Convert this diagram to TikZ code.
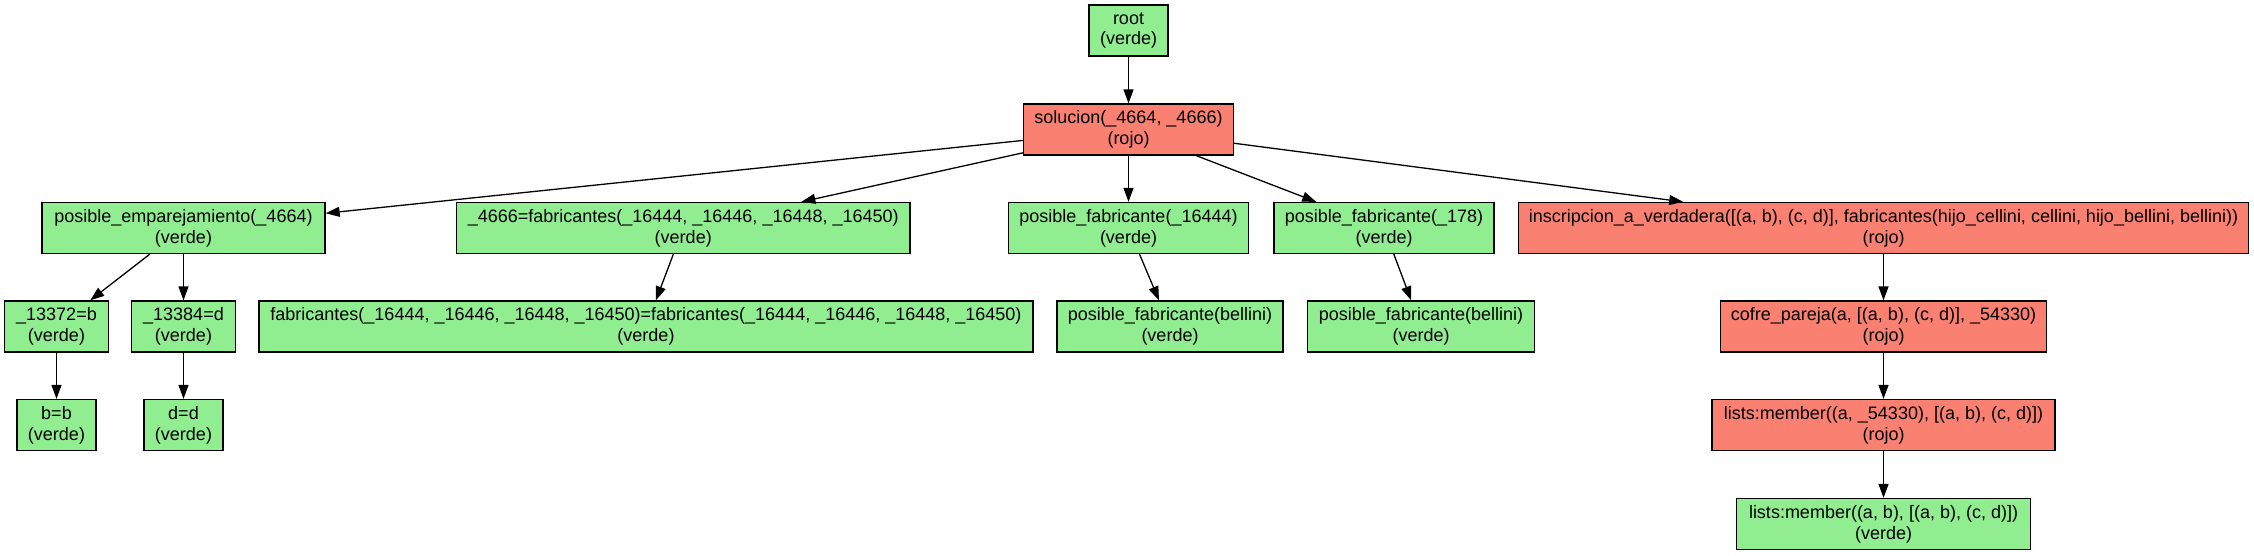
\documentclass[tikz,border=0pt]{standalone}
\usepackage{fontspec}
\setmainfont{Liberation Sans}
\usetikzlibrary{arrows.meta}

\definecolor{verdefill}{HTML}{90EE90}
\definecolor{rojofill}{HTML}{FA8072}

\begin{document}
\begin{tikzpicture}[x=1pt, y=-1pt]

\tikzset{vertex/.style = {shape=rectangle, draw, line width=1.3pt, align=center, minimum height=51pt, inner sep=0pt, font=\fontsize{18}{20.7}\selectfont}}
\tikzset{verde/.style = {vertex, fill=verdefill}}
\tikzset{rojo/.style = {vertex, fill=rojofill}}
\tikzset{edge/.style = {->, > = {Triangle[length=14pt, width=10pt]}, line width=1.3pt}}
\useasboundingbox (0,0) rectangle (2254,555);
%verticies
\node[verde, minimum width=79pt] (root) at (1128.5,30.5) {root\\(verde)};
\node[rojo, minimum width=210pt] (sol) at (1128.5,129.5) {solucion(\_4664, \_4666)\\(rojo)};
\node[verde, minimum width=283pt] (emp) at (183.5,228) {posible\_emparejamiento(\_4664)\\(verde)};
\node[verde, minimum width=453.5pt] (fab) at (683.25,228) {\_4666=fabricantes(\_16444, \_16446, \_16448, \_16450)\\(verde)};
\node[verde, minimum width=239.5pt] (pfa) at (1128.5,228) {posible\_fabricante(\_16444)\\(verde)};
\node[verde, minimum width=220pt] (pfb) at (1384,228) {posible\_fabricante(\_178)\\(verde)};
\node[rojo, minimum width=730.5pt] (ins) at (1883.5,228) {inscripcion\_a\_verdadera([(a, b), (c, d)], fabricantes(hijo\_cellini, cellini, hijo\_bellini, bellini))\\(rojo)};
\node[verde, minimum width=103.5pt] (ub) at (56.5,326.5) {\_13372=b\\(verde)};
\node[verde, minimum width=103.5pt] (ud) at (183.5,326.5) {\_13384=d\\(verde)};
\node[verde, minimum width=774pt] (fabeq) at (646,326.5) {fabricantes(\_16444, \_16446, \_16448, \_16450)=fabricantes(\_16444, \_16446, \_16448, \_16450)\\(verde)};
\node[verde, minimum width=226pt] (bella) at (1170,326.5) {posible\_fabricante(bellini)\\(verde)};
\node[verde, minimum width=227.6pt] (bellb) at (1421,326.5) {posible\_fabricante(bellini)\\(verde)};
\node[rojo, minimum width=326.5pt] (cofre) at (1883.5,326.5) {cofre\_pareja(a, [(a, b), (c, d)], \_54330)\\(rojo)};
\node[verde, minimum width=79pt] (bb) at (56.5,425) {b=b\\(verde)};
\node[verde, minimum width=79pt] (dd) at (183.5,425) {d=d\\(verde)};
\node[rojo, minimum width=343pt] (mema) at (1883.5,425) {lists:member((a, \_54330), [(a, b), (c, d)])\\(rojo)};
\node[verde, minimum width=293.4pt] (memb) at (1883.5,524) {lists:member((a, b), [(a, b), (c, d)])\\(verde)};
%edges
\path [edge] (root) edge (sol);
\path [edge] (sol) edge (emp);
\path [edge] (sol) edge (fab);
\path [edge] (sol) edge (pfa);
\path [edge] (sol) edge (pfb);
\path [edge] (sol) edge (ins);
\path [edge] (emp) edge (ub);
\path [edge] (emp) edge (ud);
\path [edge] (fab) edge (fabeq);
\path [edge] (pfa) edge (bella);
\path [edge] (pfb) edge (bellb);
\path [edge] (ins) edge (cofre);
\path [edge] (ub) edge (bb);
\path [edge] (ud) edge (dd);
\path [edge] (cofre) edge (mema);
\path [edge] (mema) edge (memb);
\end{tikzpicture}
\end{document}
